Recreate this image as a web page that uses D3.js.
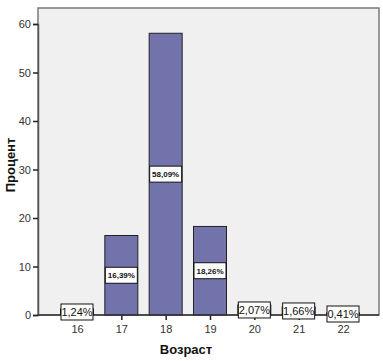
<!DOCTYPE html>
<html><head><meta charset="utf-8">
<script src="https://cdn.jsdelivr.net/npm/d3@7/dist/d3.min.js"></script>
<style>body{margin:0;background:#fff}svg{display:block}</style>
</head><body>
<script>
const categories = ["16","17","18","19","20","21","22"];
const values = [1.24, 16.39, 58.09, 18.26, 2.07, 1.66, 0.41];
const labels = ["1,24%","16,39%","58,09%","18,26%","2,07%","1,66%","0,41%"];
const yTicks = [0,10,20,30,40,50,60];

const W=383,H=361;
const svg=d3.select("body").append("svg").attr("width",W).attr("height",H);
const L=38,R=379,T=8,B=315;
const x=d3.scalePoint().domain(categories).range([77,343]);
const y=d3.scaleLinear().domain([0,60]).range([B,24]);

svg.append("rect").attr("x",L).attr("y",T).attr("width",R-L).attr("height",B-T)
  .attr("fill","#f0f0f0").attr("stroke","#7a7a7a").attr("stroke-width",1.5);

const bw=33;
svg.selectAll("rect.bar").data(values).join("rect").attr("class","bar")
  .attr("x",(d,i)=>x(categories[i])-bw/2).attr("width",bw)
  .attr("y",d=>y(d)).attr("height",d=>B-y(d))
  .attr("fill","#7373ab").attr("stroke","#222").attr("stroke-width",1);

// axes
const ya=svg.append("g").attr("transform",`translate(${L},0)`)
  .call(d3.axisLeft(y).tickValues(yTicks).tickSize(5).tickPadding(2));
ya.select(".domain").attr("stroke","#555").attr("stroke-width",1.5);
ya.selectAll(".tick line").attr("stroke","#222").attr("stroke-width",1.5);
ya.selectAll("text").attr("font-family","Arial, 'Liberation Sans', sans-serif").attr("font-size",11).attr("fill","#333");

const xa=svg.append("g").attr("transform",`translate(0,${B})`)
  .call(d3.axisBottom(x).tickSize(5).tickPadding(5));
xa.select(".domain").remove();
svg.append("line").attr("x1",L).attr("x2",R).attr("y1",B).attr("y2",B).attr("stroke","#333").attr("stroke-width",1.5);
xa.selectAll(".tick line").attr("stroke","#222").attr("stroke-width",1.5);
xa.selectAll("text").attr("font-family","Arial, 'Liberation Sans', sans-serif").attr("font-size",11).attr("fill","#333");

// value labels
const g=svg.selectAll("g.lab").data(values).join("g").attr("class","lab")
  .attr("transform",(d,i)=>`translate(${x(categories[i])},${(y(d)+B)/2})`);
g.append("rect").attr("x",-16).attr("y",-8).attr("width",32).attr("height",16)
  .attr("fill","#fff").attr("stroke","#111").attr("stroke-width",1);
g.append("text").attr("text-anchor","middle").attr("dy","0.35em")
  .attr("font-family","Arial, 'Liberation Sans', sans-serif")
  .attr("font-size",(d)=>d>10?8:11)
  .attr("font-weight",d=>d>10?"bold":"normal")
  .attr("fill","#111")
  .text((d,i)=>labels[i]);

// titles
svg.append("text").attr("transform","translate(15,165) rotate(-90)").attr("text-anchor","middle")
  .attr("font-family","Arial, 'Liberation Sans', sans-serif").attr("font-size",13).attr("font-weight","bold").attr("fill","#111").text("Процент");
svg.append("text").attr("x",186).attr("y",354).attr("text-anchor","middle")
  .attr("font-family","Arial, 'Liberation Sans', sans-serif").attr("font-size",13).attr("font-weight","bold").attr("fill","#111").text("Возраст");
</script>
</body></html>
